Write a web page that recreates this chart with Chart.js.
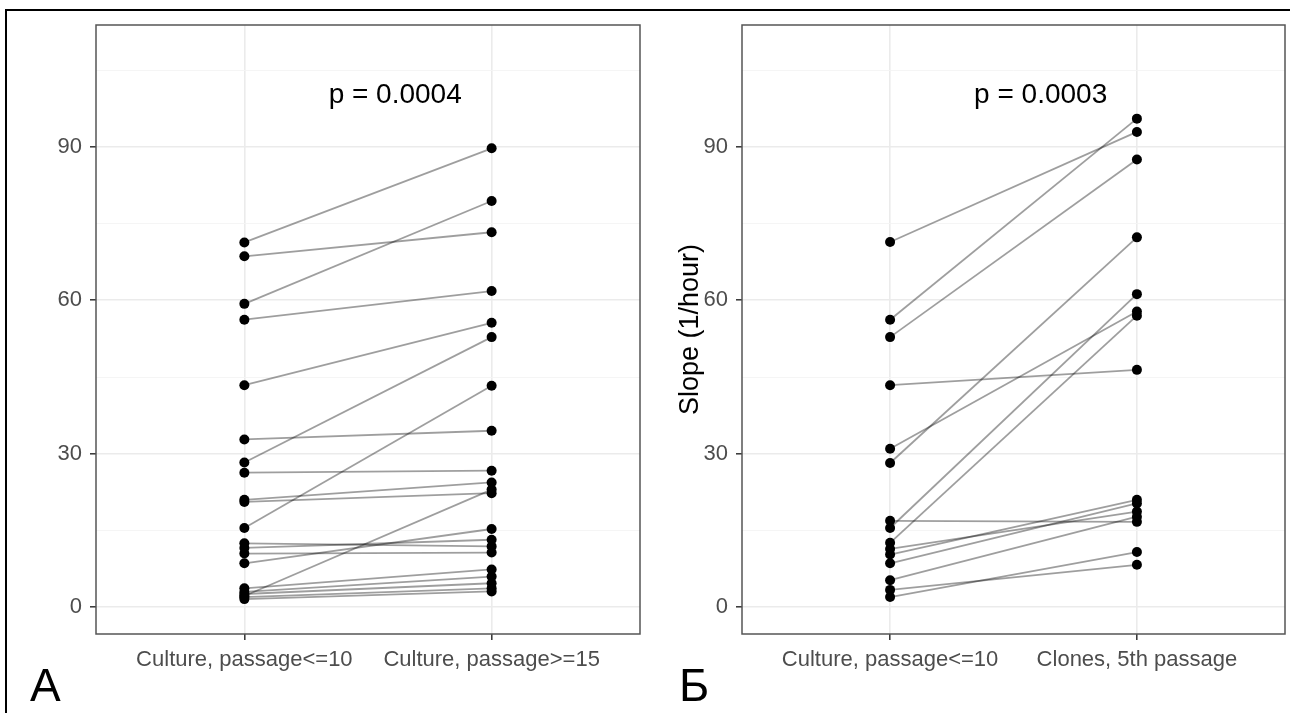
<!DOCTYPE html>
<html>
<head>
<meta charset="utf-8">
<script src="https://cdn.jsdelivr.net/npm/chart.js@4.4.1/dist/chart.umd.min.js"></script>
<style>
  html, body { margin: 0; padding: 0; background: #fff; }
  body { width: 1290px; height: 713px; position: relative; overflow: hidden;
         font-family: "Liberation Sans", Arial, sans-serif; }
  canvas { position: absolute; top: 0; }
  #outline { position: absolute; left: 5px; top: 9px; right: -10px; bottom: -10px;
             border-top: 2px solid #000; border-left: 2px solid #000; pointer-events: none; }
  .panel-tag { position: absolute; font-size: 46px; line-height: 1; color: #000; top: 662px; }
</style>
</head>
<body>
<canvas id="chartA" width="645" height="713" style="left:0"></canvas>
<canvas id="chartB" width="645" height="713" style="left:645px"></canvas>
<div id="outline"></div>
<div class="panel-tag" style="left:30px">A</div>
<div class="panel-tag" style="left:679px">Б</div>

<script>
// Growth slope per sample, paired by index between the two groups.
const categoriesA = ['Culture, passage<=10', 'Culture, passage>=15'];
const earlyA = [71.3, 68.6, 59.3, 56.2, 43.4, 32.8, 28.3, 26.3, 21.0, 20.6, 15.5,
                12.5, 11.6, 10.5, 8.6, 3.7, 3.0, 2.6, 2.2, 2.0, 1.6];
const lateA  = [89.7, 73.3, 79.4, 61.8, 55.6, 34.5, 52.8, 26.7, 24.4, 22.3, 43.3,
                11.9, 13.2, 10.7, 15.3, 7.4, 6.0, 4.7, 23.0, 3.7, 3.1];

const categoriesB = ['Culture, passage<=10', 'Clones, 5th passage'];
const earlyB  = [71.4, 56.2, 52.8, 43.4, 31.0, 28.2, 16.9, 15.5, 12.6, 11.4, 10.3, 8.6, 5.3, 3.4, 2.0];
const clonesB = [92.9, 95.5, 87.5, 46.4, 57.8, 72.3, 16.7, 61.2, 57.0, 18.7, 21.0, 20.3, 17.7, 8.3, 10.8];

const yMajorTicks = [0, 30, 60, 90];
const yMinorTicks = [15, 45, 75, 105];
const yRange = [-5.22, 113.8];

const pLabelA = 'p = 0.0004';
const pLabelB = 'p = 0.0003';
const pLabelPos = [1.61, 98.5];

const yTitleB = 'Slope (1/hour)';

const FONT = '"Liberation Sans", Arial, sans-serif';

// Panel border and the p-value annotation.
const panelDecor = {
  id: 'panelDecor',
  afterDatasetsDraw(chart, args, opts) {
    const { ctx, chartArea: a, scales } = chart;
    ctx.save();
    ctx.font = '28px ' + FONT;
    ctx.fillStyle = '#000';
    ctx.textAlign = 'center';
    ctx.textBaseline = 'alphabetic';
    ctx.fillText(opts.text, scales.x.getPixelForValue(pLabelPos[0]), scales.y.getPixelForValue(pLabelPos[1]));
    ctx.strokeStyle = '#555';
    ctx.lineWidth = 1.5;
    ctx.strokeRect(a.left, a.top, a.width, a.height);
    ctx.restore();
  }
};

function isMajor(ctx) {
  return ctx.tick && yMajorTicks.includes(ctx.tick.value);
}

function buildPanel(canvasId, categories, before, after, pText, yTitle, axisWidth, rightPad) {
  const lineSets = before.map((v, i) => ({
    data: [{ x: 1, y: v }, { x: 2, y: after[i] }],
    showLine: true,
    borderColor: 'rgba(0,0,0,0.38)',
    borderWidth: 1.8,
    pointRadius: 0,
    order: 1
  }));
  const pointSet = {
    data: before.map(v => ({ x: 1, y: v })).concat(after.map(v => ({ x: 2, y: v }))),
    showLine: false,
    backgroundColor: '#000',
    borderWidth: 0,
    pointRadius: 5,
    order: 0
  };

  return new Chart(document.getElementById(canvasId), {
    type: 'scatter',
    data: { datasets: [pointSet].concat(lineSets) },
    plugins: [panelDecor],
    options: {
      responsive: false,
      animation: false,
      devicePixelRatio: 1,
      layout: { padding: { top: 25, right: rightPad, bottom: 0, left: 0 } },
      plugins: {
        legend: { display: false },
        tooltip: { enabled: false },
        panelDecor: { text: pText }
      },
      scales: {
        x: {
          type: 'linear',
          min: 0.4,
          max: 2.6,
          afterBuildTicks: s => { s.ticks = [{ value: 1 }, { value: 2 }]; },
          afterFit: s => { s.height = 79; },
          border: { display: false },
          grid: { color: '#ebebeb', lineWidth: 1.6, tickLength: 6, tickColor: '#333', tickWidth: 1.5 },
          ticks: {
            callback: v => categories[v - 1],
            autoSkip: false, maxRotation: 0, padding: 7,
            color: '#4d4d4d', font: { family: FONT, size: 22 }
          }
        },
        y: {
          type: 'linear',
          min: yRange[0],
          max: yRange[1],
          afterBuildTicks: s => {
            s.ticks = yMajorTicks.concat(yMinorTicks).sort((a, b) => a - b).map(v => ({ value: v }));
          },
          afterFit: s => { s.width = axisWidth; },
          border: { display: false },
          grid: {
            color: ctx => isMajor(ctx) ? '#ebebeb' : '#f4f4f4',
            lineWidth: ctx => isMajor(ctx) ? 1.6 : 0.9,
            tickLength: 6,
            tickColor: ctx => isMajor(ctx) ? '#333' : 'rgba(0,0,0,0)',
            tickWidth: 1.5
          },
          ticks: {
            callback: v => yMajorTicks.includes(v) ? String(v) : '',
            autoSkip: false, padding: 8,
            color: '#4d4d4d', font: { family: FONT, size: 22 }
          },
          title: {
            display: !!yTitle,
            text: yTitle || '',
            color: '#000',
            font: { family: FONT, size: 27 },
            padding: { top: 29, bottom: 0 }
          }
        }
      }
    }
  });
}

buildPanel('chartA', categoriesA, earlyA, lateA, pLabelA, '', 96, 4);
buildPanel('chartB', categoriesB, earlyB, clonesB, pLabelB, yTitleB, 97, 3);
</script>
</body>
</html>
